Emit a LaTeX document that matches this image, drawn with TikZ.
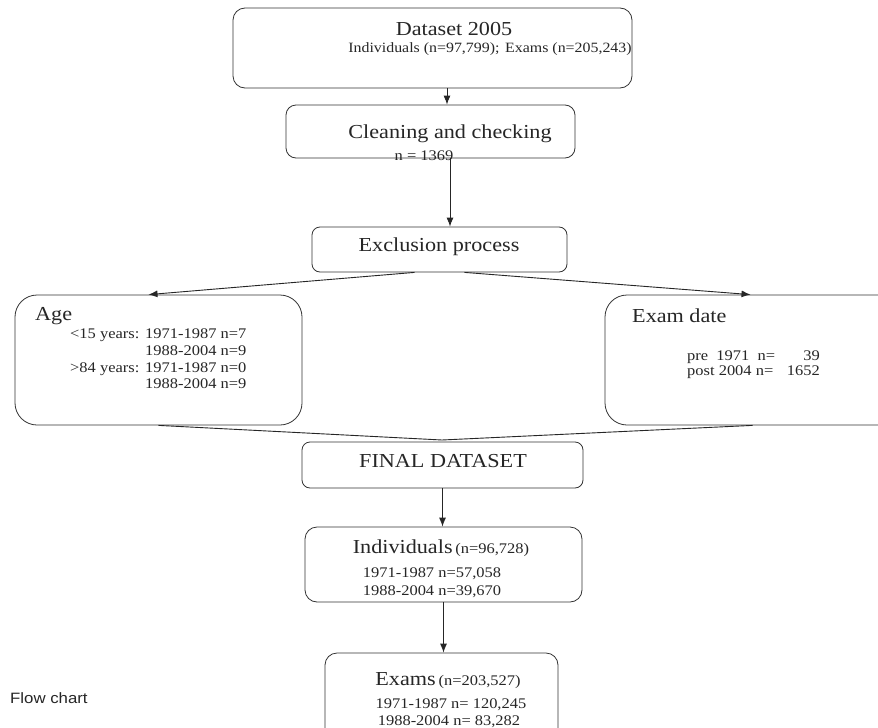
\documentclass[tikz,border=0pt]{standalone}
\usepackage{fontspec}
\setmainfont[FakeStretch=1.12]{Liberation Serif}
\newfontfamily\flowsans[FakeStretch=1.12]{Liberation Sans}
\usetikzlibrary{arrows.meta}
\begin{document}
\begin{tikzpicture}[x=1pt,y=-1pt,
  box/.style={draw=black!80, line width=0.8pt, inner sep=0pt},
  conn/.style={draw=black!85, line width=0.9pt, -{Latex[length=9pt,width=7pt]}},
  plain/.style={draw=black!85, line width=0.9pt},
  big/.style={font=\fontsize{19.8}{22}\selectfont, inner sep=0pt, text=black!85},
  small/.style={font=\fontsize{14.7}{16}\selectfont, inner sep=0pt, text=black!85}]
\clip (0,0) rectangle (878,728);
\fill[white] (0,0) rectangle (878,728);

% boxes
\node[box, rounded corners=12pt, minimum width=399pt, minimum height=80pt] (ds) at (432.5,48) {};
\node[box, rounded corners=10pt, minimum width=289pt, minimum height=53pt] (cl) at (430.5,131.5) {};
\node[box, rounded corners=8pt, minimum width=255pt, minimum height=45pt] (ex) at (439.5,249.5) {};
\node[box, rounded corners=22pt, minimum width=287pt, minimum height=130pt] (age) at (158.5,360) {};
\node[box, rounded corners=22pt, minimum width=295pt, minimum height=130pt] (date) at (752.5,360) {};
\node[box, rounded corners=8pt, minimum width=281pt, minimum height=46pt] (fin) at (442.5,465) {};
\node[box, rounded corners=12pt, minimum width=277pt, minimum height=75pt] (ind) at (443.5,564.5) {};
\node[box, rounded corners=12pt, minimum width=233pt, minimum height=92pt] (exm) at (441.5,699) {};

% texts
\node[big, anchor=base] (dst) at (454,35) {Dataset 2005};
\node[small, font=\fontsize{14.2}{16}\selectfont, anchor=base] (dsn) at (490,52) {Individuals (n=97,799);\hspace{0.4em}Exams (n=205,243)};
\node[big, anchor=base] (clt) at (450,138) {Cleaning and checking};
\node[small, anchor=base] (cln) at (424,160) {n = 1369};
\node[big, anchor=base] (ext) at (439,251) {Exclusion process};

\node[big, anchor=base west] (aget) at (35,320) {Age};
\node[small, anchor=base west] (a1) at (70,338) {<15 years:};
\node[small, anchor=base west] (a2) at (145,338) {1971-1987 n=7};
\node[small, anchor=base west] (a3) at (145,355) {1988-2004 n=9};
\node[small, anchor=base west] (a4) at (70,372) {>84 years:};
\node[small, anchor=base west] (a5) at (145,372) {1971-1987 n=0};
\node[small, anchor=base west] (a6) at (145,388) {1988-2004 n=9};

\node[big, anchor=base west] (datet) at (632,322) {Exam date};
\node[small, anchor=base west] (d1) at (687,360) {pre\ \ 1971\ \ n=};
\node[small, anchor=base east] (d3) at (820,360) {39};
\node[small, anchor=base west] (d4) at (687,375) {post 2004\ n=};
\node[small, anchor=base east] (d6) at (820,375) {1652};

\node[big, anchor=base] (fint) at (443,467) {FINAL DATASET};

\node[anchor=base, inner sep=0pt, text=black!85] (indt) at (441,553) {{\fontsize{19.8}{22}\selectfont Individuals} {\fontsize{14.7}{16}\selectfont (n=96,728)}};
\node[small, anchor=base] (ind1) at (432,577) {1971-1987 n=57,058};
\node[small, anchor=base] (ind2) at (432,595) {1988-2004 n=39,670};

\node[anchor=base, inner sep=0pt, text=black!85] (exmt) at (448,685) {{\fontsize{19.8}{22}\selectfont Exams} {\fontsize{14.7}{16}\selectfont (n=203,527)}};
\node[small, anchor=base] (exm1) at (451,708) {1971-1987 n= 120,245};
\node[small, anchor=base] (exm2) at (449,725) {1988-2004 n= 83,282};

\node[font=\flowsans\fontsize{15}{17}\selectfont, anchor=base west, inner sep=0pt, text=black!85] (fc) at (10,703) {Flow chart};

% connectors
\draw[conn] ([xshift=14.5pt]ds.south) -- ([xshift=16.5pt]cl.north);
\draw[conn] ([xshift=19.5pt]cl.south) -- ([xshift=10.5pt]ex.north);
\draw[conn] ([xshift=-25pt]ex.south) -- ([xshift=-10pt]age.north);
\draw[conn] ([xshift=25pt]ex.south) -- ([xshift=-2pt]date.north);
\coordinate (m) at (442,440);
\draw[plain] (age.south) -- (m);
\draw[plain] (date.south) -- (m);
\draw[conn] (fin.south) -- (fin.south |- ind.north);
\draw[conn] (ind.south) -- (ind.south |- exm.north);
\end{tikzpicture}
\end{document}
